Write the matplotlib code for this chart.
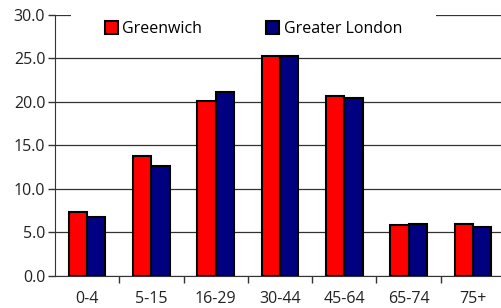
import numpy as np
import matplotlib
matplotlib.use("Agg")
import matplotlib.pyplot as plt
from matplotlib.patches import Rectangle
from matplotlib.ticker import FixedLocator

plt.rcParams['font.family'] = ['Open Sans', 'DejaVu Sans']

age_groups = ['0-4', '5-15', '16-29', '30-44', '45-64', '65-74', '75+']
greenwich = [7.3, 13.8, 20.1, 25.3, 20.7, 5.8, 5.9]
greater_london = [6.8, 12.6, 21.1, 25.3, 20.4, 5.9, 5.6]

fig = plt.figure(figsize=(5.01, 3.08), dpi=100)
ax = fig.add_axes([55 / 501, 1 - 275.7 / 308, 450 / 501, 261 / 308])

x = np.arange(len(age_groups))
w = 0.285
ax.bar(x - w / 2, greenwich, w, color='#ff0000', edgecolor='black', linewidth=1.5,
       label='Greenwich', zorder=3)
ax.bar(x + w / 2, greater_london, w, color='#000080', edgecolor='black', linewidth=1.5,
       label='Greater London', zorder=3)

ax.set_xlim(-0.5, len(age_groups) - 0.5)
ax.set_ylim(0, 30)
ax.set_yticks(np.arange(0, 31, 5))
ax.set_yticklabels(['%.1f' % v for v in np.arange(0, 31, 5)], fontsize=11.5, color='#222222')
ax.yaxis.grid(True, color='#333333', linewidth=0.9, zorder=0)

ax.set_xticks(x)
ax.set_xticklabels(age_groups, fontsize=11.5, color='#222222')
ax.xaxis.set_minor_locator(FixedLocator(x[1:] - 0.5))
ax.tick_params(axis='x', which='major', length=0, pad=11)
ax.tick_params(axis='x', which='minor', length=5, width=1, color='#333333')
ax.tick_params(axis='y', length=5, width=1, color='#333333', pad=2)

for s in ['top', 'right']:
    ax.spines[s].set_visible(False)
ax.spines['left'].set_color('#333333')
ax.spines['bottom'].set_color('#333333')

# white legend box hiding the top gridline
ax.add_patch(Rectangle((0.0356, 0.884), 0.811, 0.13, transform=ax.transAxes,
                       facecolor='white', edgecolor='none', zorder=2.5, clip_on=False))
leg = ax.legend(loc='center', bbox_to_anchor=(0.441, 0.945), ncol=2,
                frameon=False, fontsize=11.5, handlelength=0.8, handleheight=0.8,
                columnspacing=4.0, handletextpad=0.3, borderaxespad=0)
leg.set_zorder(5)

fig.savefig('out.png', dpi=100)
